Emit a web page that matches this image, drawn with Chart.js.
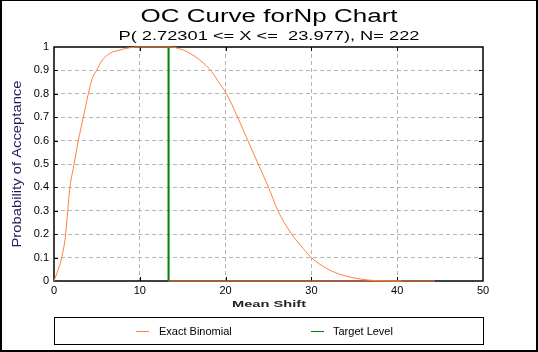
<!DOCTYPE html>
<html>
<head>
<meta charset="utf-8">
<script src="https://cdn.jsdelivr.net/npm/chart.js@4"></script>
<style>
  html, body { margin: 0; padding: 0; background: #fff; }
  #wrap { position: relative; width: 538px; height: 352px; }
  #frame {
    position: absolute; left: 0; top: 0; width: 538px; height: 352px;
    box-sizing: border-box; border-style: solid; border-color: #000;
    border-width: 1px 2px 2px 2px; pointer-events: none;
  }
  #legend {
    position: absolute; left: 54px; top: 317px; width: 430px; height: 28px;
    box-sizing: border-box; border: 1px solid #000;
    font: 11px "Liberation Sans", Arial, sans-serif; color: #000;
  }
  .sw { position: absolute; top: 13px; width: 13px; height: 0; border-top: 1px solid; }
  .lbl { position: absolute; top: 7px; line-height: 13px; white-space: nowrap; }
</style>
</head>
<body>
<div id="wrap">
  <canvas id="oc" width="538" height="352"></canvas>
  <div id="legend">
    <span class="sw" style="left:81px;border-color:#ff7f40"></span>
    <span class="lbl" style="left:104px">Exact Binomial</span>
    <span class="sw" style="left:256px;border-color:#008000"></span>
    <span class="lbl" style="left:278px">Target Level</span>
  </div>
  <div id="frame"></div>
</div>
<script>
  // values
  const shiftValues = [0, 0.5, 0.9, 1.36, 1.6, 1.86, 2.35, 2.83, 3.42, 4.0,
    4.5, 4.97, 5.55, 6.53, 7.69, 8.5, 9.4, 10, 11, 12,
    13.35, 14.1, 14.5, 15.07, 15.85, 17.0, 18.4, 19.15, 20.1, 21.4,
    22.6, 23.8, 25.0, 26.1, 27.7, 28.7, 30.0, 31.8, 33.3, 34.9,
    36.6, 38.3, 40.5];
  const acceptProb = [0, 0.05, 0.10, 0.20, 0.30, 0.40, 0.50, 0.60, 0.70, 0.80,
    0.87, 0.90, 0.94, 0.973, 0.987, 0.995, 0.999, 1, 1, 1,
    1, 0.998, 0.993, 0.987, 0.973, 0.944, 0.894, 0.852, 0.80, 0.70,
    0.60, 0.50, 0.40, 0.30, 0.20, 0.154, 0.10, 0.053, 0.029, 0.014,
    0.004, 0.001, 0];
  const baseShift = [13.35, 44.4];
  const baseProb = [0, 0];
  const targetShift = [13.35, 13.35];
  const targetProb = [0, 1];

  const xTickValues = [0, 10, 20, 30, 40, 50];
  const xTickLabels = ["0", "10", "20", "30", "40", "50"];
  const yTickValues = [0, 0.1, 0.2, 0.3, 0.4, 0.5, 0.6, 0.7, 0.8, 0.9, 1];
  const yTickLabels = ["0", "0.1", "0.2", "0.3", "0.4", "0.5", "0.6", "0.7", "0.8", "0.9", "1"];

  const ORANGE = "#ff7f40";
  const GREEN = "#008000";
  const GRID = "#b4b4b4";
  const FONT = '"Liberation Sans", Arial, sans-serif';

  const pts = (xs, ys) => xs.map((x, i) => ({ x, y: ys[i] }));

  // draws a text squeezed/stretched to a given width (the original uses wide text)
  function wideText(ctx, text, x, y, font, width, color, rotate) {
    ctx.save();
    ctx.font = font;
    ctx.fillStyle = color;
    ctx.textAlign = "center";
    ctx.textBaseline = "alphabetic";
    const sx = width / ctx.measureText(text).width;
    ctx.translate(x, y);
    if (rotate) ctx.rotate(-Math.PI / 2);
    ctx.scale(sx, 1);
    ctx.fillText(text, 0, 0);
    ctx.restore();
  }

  const framePlugin = {
    id: "frame",
    beforeDatasetsDraw(chart) {
      const { ctx, chartArea: a, scales: { x, y } } = chart;
      ctx.save();
      ctx.strokeStyle = "#000";
      ctx.lineWidth = 1;
      ctx.beginPath();
      xTickValues.slice(1, -1).forEach((v) => {
        const px = Math.round(x.getPixelForValue(v)) + 0.5;
        ctx.moveTo(px, a.bottom); ctx.lineTo(px, a.bottom - 4);
        ctx.moveTo(px, a.top); ctx.lineTo(px, a.top + 4);
      });
      yTickValues.slice(1, -1).forEach((v) => {
        const py = Math.round(y.getPixelForValue(v)) + 0.5;
        ctx.moveTo(a.left, py); ctx.lineTo(a.left + 4, py);
        ctx.moveTo(a.right, py); ctx.lineTo(a.right - 4, py);
      });
      ctx.stroke();
      ctx.lineWidth = 1.5;
      ctx.strokeRect(a.left, a.top, a.right - a.left, a.bottom - a.top);
      ctx.restore();
    },
    afterDraw(chart) {
      const ctx = chart.ctx;
      wideText(ctx, "OC Curve forNp Chart", 269, 22, "18px " + FONT, 257, "#000");
      wideText(ctx, "P( 2.72301 <= X <=  23.977), N= 222", 269, 40, "12px " + FONT, 301, "#000");
      wideText(ctx, "Mean Shift", 269, 307, "bold 9px " + FONT, 74, "#222");
      wideText(ctx, "Probability of Acceptance", 21, 164, "12px " + FONT, 167, "#1c1c5a", true);
    },
  };

  const gridColor = (max) => (c) =>
    c.tick && (c.tick.value === 0 || c.tick.value === max) ? "rgba(0,0,0,0)" : GRID;

  new Chart(document.getElementById("oc"), {
    type: "line",
    data: {
      datasets: [
        {
          label: "Exact Binomial",
          data: pts(shiftValues, acceptProb),
          borderColor: ORANGE,
          borderWidth: 1,
          pointRadius: 0,
          cubicInterpolationMode: "monotone",
          clip: false,
        },
        {
          label: "baseline",
          data: pts(baseShift, baseProb),
          borderColor: ORANGE,
          borderWidth: 1,
          pointRadius: 0,
          clip: false,
        },
        {
          label: "Target Level",
          data: pts(targetShift, targetProb),
          borderColor: GREEN,
          borderWidth: 2,
          pointRadius: 0,
          clip: false,
        },
      ],
    },
    options: {
      responsive: false,
      animation: false,
      devicePixelRatio: 1,
      layout: { padding: { left: 0, top: 47, right: 55, bottom: 0 } },
      plugins: { legend: { display: false }, tooltip: { enabled: false } },
      scales: {
        x: {
          type: "linear",
          min: 0,
          max: 50,
          afterBuildTicks: (s) => { s.ticks = xTickValues.map((v) => ({ value: v })); },
          afterFit: (s) => { s.height = 71; },
          grid: { color: gridColor(50), drawTicks: false, lineWidth: 1 },
          border: { display: false, dash: [4, 3] },
          ticks: {
            padding: 3,
            color: "#000",
            font: { family: FONT, size: 11 },
            maxRotation: 0,
            callback: (v, i) => xTickLabels[i],
          },
        },
        y: {
          type: "linear",
          min: 0,
          max: 1,
          afterBuildTicks: (s) => { s.ticks = yTickValues.map((v) => ({ value: v })); },
          afterFit: (s) => { s.width = 54; },
          grid: { color: gridColor(1), drawTicks: false, lineWidth: 1 },
          border: { display: false, dash: [4, 3] },
          ticks: {
            padding: 5,
            color: "#000",
            font: { family: FONT, size: 11 },
            callback: (v, i) => yTickLabels[i],
          },
        },
      },
    },
    plugins: [framePlugin],
  });
</script>
</body>
</html>
